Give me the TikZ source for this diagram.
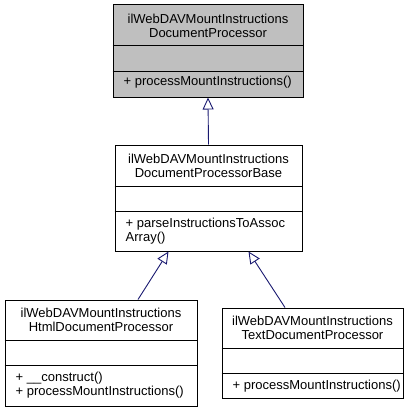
\documentclass[tikz,border=0pt]{standalone}
\usepackage{fontspec}
\setmainfont{Liberation Sans}
\usetikzlibrary{arrows.meta}

\definecolor{edgeblue}{HTML}{191970}
\definecolor{boxgray}{HTML}{BFBFBF}

\tikzset{
    classbox/.style={draw=black, line width=1pt, inner sep=0pt, fill=white},
    txt/.style={inner sep=0pt, font=\fontsize{13}{14}\selectfont},
    inherit/.style={draw=edgeblue, line width=0.9pt,
        -{Triangle[open, width=11pt, length=12pt, fill=white]}},
}

\begin{document}
\begin{tikzpicture}[x=1pt,y=-1pt]
    \useasboundingbox (0,0) rectangle (419,412);

    % the class boxes
    \node[classbox, fill=boxgray, minimum width=190pt, minimum height=92pt] (proc) at (208,51) {};
    \node[classbox, minimum width=187pt, minimum height=106pt] (base) at (208.5,198) {};
    \node[classbox, minimum width=192pt, minimum height=106pt] (html) at (101,353) {};
    \node[classbox, minimum width=181pt, minimum height=90pt] (text) at (312.5,353) {};

    % compartments
    \draw[line width=1pt] (proc.west |- 0,45) -- (proc.east |- 0,45);
    \draw[line width=1pt] (proc.west |- 0,71) -- (proc.east |- 0,71);
    \draw[line width=1pt] (base.west |- 0,186) -- (base.east |- 0,186);
    \draw[line width=1pt] (base.west |- 0,211) -- (base.east |- 0,211);
    \draw[line width=1pt] (html.west |- 0,340) -- (html.east |- 0,340);
    \draw[line width=1pt] (html.west |- 0,365) -- (html.east |- 0,365);
    \draw[line width=1pt] (text.west |- 0,348) -- (text.east |- 0,348);
    \draw[line width=1pt] (text.west |- 0,373) -- (text.east |- 0,373);

    % names
    \node[txt, align=center] (proc name) at (208,25.5) {ilWebDAVMountInstructions\\DocumentProcessor};
    \node[txt, align=center] (base name) at (208.5,165.5) {ilWebDAVMountInstructions\\DocumentProcessorBase};
    \node[txt, align=center] (html name) at (101,320) {ilWebDAVMountInstructions\\HtmlDocumentProcessor};
    \node[txt, align=center] (text name) at (312.5,327.5) {ilWebDAVMountInstructions\\TextDocumentProcessor};

    % operations
    \node[txt, anchor=west] (proc ops) at ([xshift=11pt]proc.west |- 0,82) {+ processMountInstructions()};
    \node[txt, anchor=west, align=left] (base ops) at ([xshift=11pt]base.west |- 0,231.5) {+ parseInstructionsToAssoc\\Array()};
    \node[txt, anchor=west, align=left] (html ops) at ([xshift=11pt]html.west |- 0,385.5) {+ \_\_construct()\\+ processMountInstructions()};
    \node[txt, anchor=west] (text ops) at ([xshift=11pt]text.west |- 0,386) {+ processMountInstructions()};

    % generalisations
    \draw[inherit] (base.north) -- (proc.south);
    \draw[inherit] ([xshift=37pt]html.north) -- ([xshift=-40pt]base.south);
    \draw[inherit] ([xshift=-27.5pt]text.north) -- ([xshift=40pt]base.south);
\end{tikzpicture}
\end{document}
